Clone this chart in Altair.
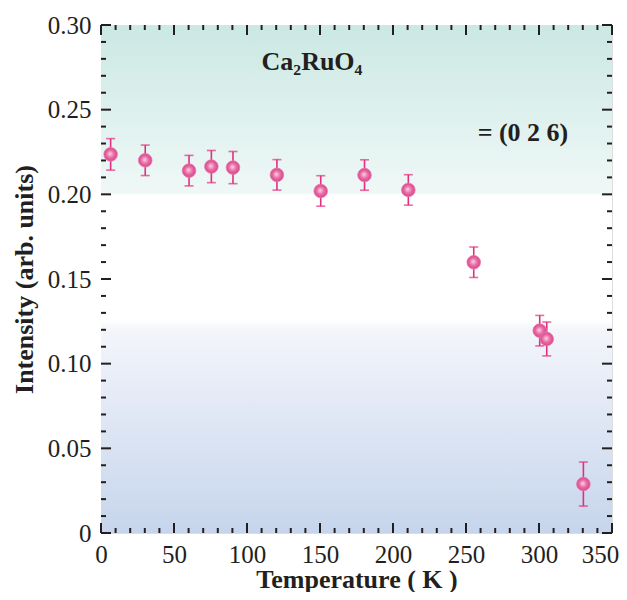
import altair as alt
import pandas as pd

# ---- data ----
temperature = [6.6, 30.3, 60.3, 75.6, 90.4, 120.5, 150.5, 180.5, 210.5, 255.3, 300.5, 305.3, 330.4]
intensity = [0.2236, 0.2201, 0.2140, 0.2164, 0.2158, 0.2115, 0.2020, 0.2114, 0.2026, 0.1599, 0.1195, 0.1146, 0.0289]
error = [0.0093, 0.0090, 0.0090, 0.0095, 0.0095, 0.0090, 0.0090, 0.0090, 0.0090, 0.0090, 0.0090, 0.0100, 0.0130]

x_major = [0, 50, 100, 150, 200, 250, 300, 350]
x_minor = [v for v in range(0, 351, 10) if v % 50 != 0]
y_major = [0.0, 0.05, 0.10, 0.15, 0.20, 0.25, 0.30]
y_minor = [round(i * 0.01, 2) for i in range(0, 31) if i % 5 != 0]

label_text = ["Ca₂RuO₄", "= (0 2 6)"]
label_x = [144.5, 289.0]
label_y = [0.278, 0.236]

W, H = 511, 508
FONT = "Liberation Serif"
AX = "#231f20"

df = pd.DataFrame({"T": temperature, "I": intensity, "e": error})
df["lo"] = df["I"] - df["e"]
df["hi"] = df["I"] + df["e"]

xs = alt.Scale(domain=[0, 350], nice=False, zero=False)
ys = alt.Scale(domain=[0, 0.3], nice=False, zero=False)

x_axis = alt.Axis(title="Temperature ( K )", values=x_major, ticks=False,
                  domain=False, grid=False, labelFont=FONT, labelFontSize=25,
                  labelColor=AX, labelPadding=9, titleFont=FONT, titleFontSize=26,
                  titleFontWeight="bold", titleColor=AX,
                  titleBaseline="alphabetic", titleY=54,
                  labelFlush=False,
                  labelOffset={"condition": {"test": "datum.value == 350", "value": -12}, "value": 0})
y_axis = alt.Axis(title="Intensity (arb. units)", values=y_major, ticks=False,
                  domain=False, grid=False, labelFont=FONT, labelFontSize=25,
                  labelColor=AX, labelPadding=10, titleFont=FONT, titleFontSize=26,
                  titleFontWeight="bold", titleColor=AX, titlePadding=10,
                  labelFlush=False,
                  labelExpr="datum.value == 0 ? '0' : format(datum.value, '.2f')")

def X(f):
    return alt.X(f, scale=xs, axis=x_axis)

def Y(f):
    return alt.Y(f, scale=ys, axis=y_axis)

bg_grad = alt.LinearGradient(
    gradient="linear",
    stops=[
        alt.GradientStop(color="#cbe8e3", offset=0),
        alt.GradientStop(color="#eff8f7", offset=0.33),
        alt.GradientStop(color="#ffffff", offset=0.335),
        alt.GradientStop(color="#ffffff", offset=0.58),
        alt.GradientStop(color="#f3f5fb", offset=0.6),
        alt.GradientStop(color="#c6d5ec", offset=1),
    ],
    x1=0, x2=0, y1=0, y2=1,
)

background = alt.Chart(pd.DataFrame({"a": [0]})).mark_rect(fill=bg_grad).encode(
    x=alt.value(0), x2=alt.value(W), y=alt.value(0), y2=alt.value(H)
)

base = alt.Chart(df)

bars = base.mark_rule(color="#e0307f", strokeWidth=1.6).encode(
    x=X("T:Q"), y=Y("lo:Q"), y2="hi:Q",
)

cap_lo = base.mark_tick(color="#e0307f", orient="horizontal", size=9, thickness=1.6).encode(
    x=X("T:Q"), y=Y("lo:Q")
)
cap_hi = base.mark_tick(color="#e0307f", orient="horizontal", size=9, thickness=1.6).encode(
    x=X("T:Q"), y=Y("hi:Q")
)

pt_grad = alt.RadialGradient(
    gradient="radial",
    stops=[
        alt.GradientStop(color="#fbd3e4", offset=0),
        alt.GradientStop(color="#e86ba5", offset=0.55),
        alt.GradientStop(color="#d8468b", offset=1),
    ],
    x1=0.45, y1=0.45, r1=0, x2=0.5, y2=0.5, r2=0.5,
)
points = base.mark_point(filled=True, fill=pt_grad, size=185, opacity=1,
                         stroke="#e777ab", strokeWidth=0.8).encode(
    x=X("T:Q"), y=Y("I:Q")
)

# inward ticks on all four sides
def xticks(vals, length, top):
    d = pd.DataFrame({"v": vals})
    y0, y1 = (0, length) if top else (H, H - length)
    return alt.Chart(d).mark_rule(color=AX, strokeWidth=2).encode(
        x=X("v:Q"), y=alt.value(y0), y2=alt.value(y1))

def yticks(vals, length, right):
    d = pd.DataFrame({"v": vals})
    x0, x1 = (W, W - length) if right else (0, length)
    return alt.Chart(d).mark_rule(color=AX, strokeWidth=2).encode(
        y=Y("v:Q"), x=alt.value(x0), x2=alt.value(x1))

ticks = [
    xticks(x_major, 10, False), xticks(x_minor, 5, False),
    xticks(x_major, 10, True), xticks(x_minor, 5, True),
    yticks(y_major, 10, False), yticks(y_minor, 5, False),
    yticks(y_major, 10, True), yticks(y_minor, 5, True),
]

labels = alt.Chart(pd.DataFrame({"t": label_text, "x": label_x, "y": label_y})).mark_text(
    font=FONT, fontSize=26, fontWeight="bold", color=AX, align="center", baseline="middle"
).encode(
    x=X("x:Q"), y=Y("y:Q"), text="t:N"
)

chart = alt.layer(background, *ticks, bars, cap_lo, cap_hi, points, labels).properties(
    width=W, height=H,
    autosize=alt.AutoSizeParams(type="none"),
    padding={"left": 93, "top": 17, "right": 7, "bottom": 59},
).configure_view(stroke=AX, strokeWidth=3).configure(background="white")

chart.save("out.html", embed_options={"renderer": "svg", "actions": False})
